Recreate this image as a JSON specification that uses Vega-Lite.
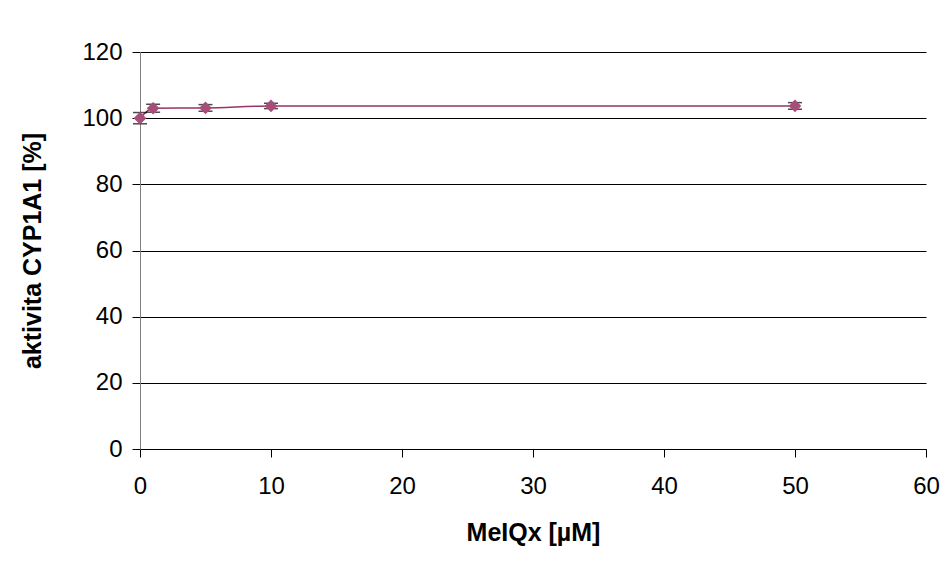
{
  "$schema": "https://vega.github.io/schema/vega-lite/v6.json",
  "width": 786,
  "height": 397,
  "autosize": "none",
  "padding": {"left": 140, "top": 52, "right": 24, "bottom": 120},
  "background": "white",
  "config": {"view": {"stroke": null}, "font": "Liberation Sans"},
  "data": {
    "values": [
      {"c": 0, "a": 100.0, "lo": 98.3, "hi": 101.7},
      {"c": 1, "a": 103.0, "lo": 101.8, "hi": 104.2},
      {"c": 5, "a": 103.1, "lo": 102.1, "hi": 104.1},
      {"c": 10, "a": 103.7, "lo": 102.9, "hi": 104.5},
      {"c": 50, "a": 103.7, "lo": 102.7, "hi": 104.7}
    ]
  },
  "layer": [
    {
      "mark": {"type": "line", "interpolate": "monotone", "color": "#993366", "strokeWidth": 1.5},
      "encoding": {
        "x": {
          "field": "c", "type": "quantitative",
          "scale": {"domain": [0, 60], "nice": false},
          "title": "MeIQx  [µM]",
          "axis": {
            "values": [0, 10, 20, 30, 40, 50, 60],
            "grid": false, "domainColor": "black", "tickColor": "black",
            "tickSize": 8, "labelFontSize": 24, "labelColor": "black", "labelPadding": 17,
            "labelFlush": false, "labelOverlap": false,
            "titleFontSize": 25, "titleFontWeight": "bold", "titleColor": "black", "titlePadding": 22
          }
        },
        "y": {
          "field": "a", "type": "quantitative",
          "scale": {"domain": [0, 120], "nice": false},
          "title": "aktivita CYP1A1 [%]",
          "axis": {
            "values": [0, 20, 40, 60, 80, 100, 120],
            "grid": true, "gridColor": "black", "gridOpacity": 1,
            "domainColor": "#808080", "tickColor": "black",
            "tickSize": 8, "labelFontSize": 24, "labelColor": "black", "labelPadding": 10,
            "labelFlush": false, "labelOverlap": false,
            "titleFontSize": 25, "titleFontWeight": "bold", "titleColor": "black", "titlePadding": 36
          }
        }
      }
    },
    {
      "mark": {"type": "rule", "color": "black", "strokeWidth": 1},
      "encoding": {
        "x": {"field": "c", "type": "quantitative", "title": "MeIQx  [µM]"},
        "y": {"field": "lo", "type": "quantitative", "title": "aktivita CYP1A1 [%]"},
        "y2": {"field": "hi"}
      }
    },
    {
      "mark": {"type": "tick", "orient": "horizontal", "color": "black", "size": 14, "thickness": 1.5},
      "encoding": {
        "x": {"field": "c", "type": "quantitative", "title": "MeIQx  [µM]"},
        "y": {"field": "lo", "type": "quantitative", "title": "aktivita CYP1A1 [%]"}
      }
    },
    {
      "mark": {"type": "tick", "orient": "horizontal", "color": "black", "size": 14, "thickness": 1.5},
      "encoding": {
        "x": {"field": "c", "type": "quantitative", "title": "MeIQx  [µM]"},
        "y": {"field": "hi", "type": "quantitative", "title": "aktivita CYP1A1 [%]"}
      }
    },
    {
      "mark": {"type": "point", "shape": "diamond", "filled": true, "size": 160, "color": "#a64d79", "opacity": 1},
      "encoding": {
        "x": {"field": "c", "type": "quantitative", "title": "MeIQx  [µM]"},
        "y": {"field": "a", "type": "quantitative", "title": "aktivita CYP1A1 [%]"}
      }
    }
  ]
}
